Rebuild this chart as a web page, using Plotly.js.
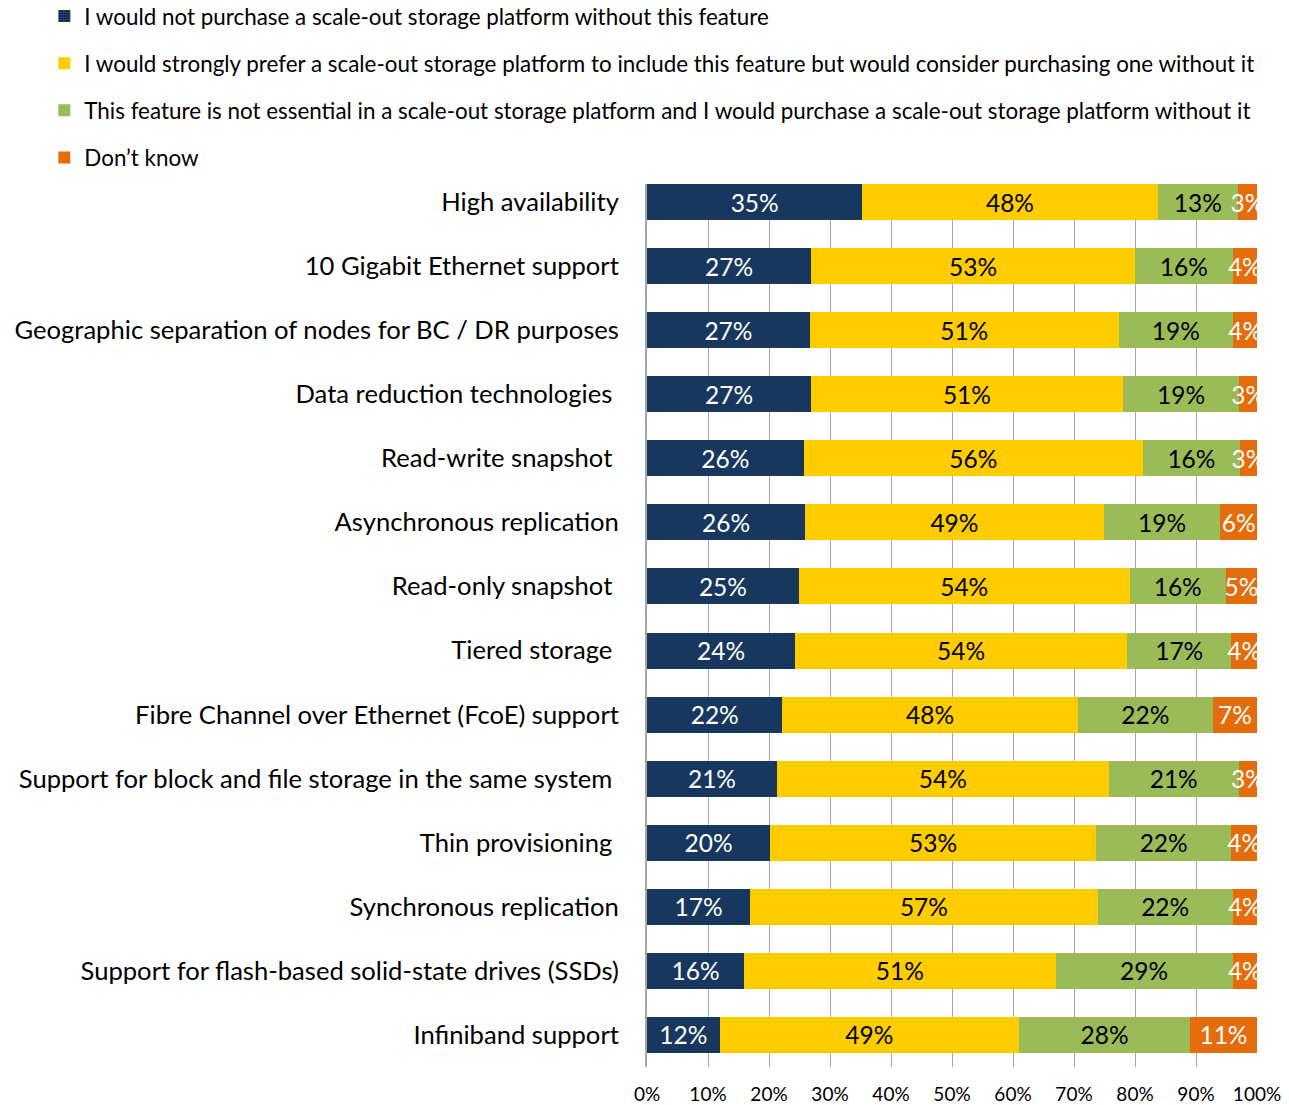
<!DOCTYPE html>
<html>
<head>
<meta charset="utf-8">
<script src="https://cdn.plot.ly/plotly-3.0.1.min.js"></script>
<style>html,body{margin:0;padding:0;background:#fff;}#chart{width:1289px;height:1105px;}</style>
</head>
<body>
<div id="chart"></div>
<script>
const categories = [
  "High availability",
  "10 Gigabit Ethernet support",
  "Geographic separation of nodes for BC / DR purposes",
  "Data reduction technologies\u00a0",
  "Read-write snapshot\u00a0",
  "Asynchronous replication",
  "Read-only snapshot\u00a0",
  "Tiered storage\u00a0",
  "Fibre Channel over Ethernet (FcoE) support",
  "Support for block and file storage in the same system\u00a0",
  "Thin provisioning\u00a0",
  "Synchronous replication",
  "Support for flash-based solid-state drives (SSDs)",
  "Infiniband support"
];
const seriesNames = [
  "I would not purchase a scale-out storage platform without this feature",
  "I would strongly prefer a scale-out storage platform to include this feature but would consider purchasing one without it",
  "This feature is not essential in a scale-out storage platform and I would purchase a scale-out storage platform without it",
  "Don\u2019t know"
];
const wouldNot   = [35.3, 26.9, 26.7, 26.9, 25.7, 25.9, 24.9, 24.3, 22.2, 21.3, 20.2, 16.9, 15.9, 11.9];
const prefer     = [48.4, 53.1, 50.6, 51.1, 55.6, 49.0, 54.2, 54.4, 48.4, 54.4, 53.4, 57.0, 51.1, 49.1];
const notEssent  = [13.2, 16.0, 18.8, 19.1, 15.9, 19.1, 15.8, 17.1, 22.2, 21.3, 22.2, 22.1, 29.0, 28.0];
const dontKnow   = [3.1, 4.0, 3.9, 2.9, 2.8, 6.0, 5.1, 4.2, 7.2, 3.0, 4.2, 4.0, 4.0, 11.0];
const xTickVals  = [0, 10, 20, 30, 40, 50, 60, 70, 80, 90, 100];

const FONT = "Lato, 'Open Sans', sans-serif";
const colors = ["#17375E", "#FFCC00", "#9BBB59", "#E46C0A"];
const textColors = ["#FFFFFF", "#000000", "#000000", "#FFFFFF"];
const values = [wouldNot, prefer, notEssent, dontKnow];

const traces = values.map((v, i) => ({
  type: "bar",
  orientation: "h",
  name: seriesNames[i],
  legendgroup: "g" + i,
  x: v,
  y: categories,
  marker: {color: colors[i], line: {width: 0}},
  texttemplate: "%{x:.0f}%",
  textposition: "inside",
  insidetextanchor: "middle",
  textangle: 0,
  insidetextfont: {family: FONT, size: 24.5, color: textColors[i]},
  hoverinfo: "skip",
  cliponaxis: true
}));

const layout = {
  width: 1289,
  height: 1105,
  margin: {l: 647, r: 32, t: 184, b: 38, pad: 0, autoexpand: false},
  paper_bgcolor: "#ffffff",
  plot_bgcolor: "#ffffff",
  barmode: "stack",
  bargap: 0.438,
  font: {family: FONT, color: "#000000"},
  uniformtext: {mode: "show", minsize: 24.5},
  showlegend: true,
  legend: {
    orientation: "v",
    xref: "paper", yref: "paper",
    x: -0.988, y: 1.2140, xanchor: "left", yanchor: "top",
    traceorder: "grouped",
    tracegroupgap: 15,
    font: {family: FONT, size: 22.4, color: "#000000"},
    bgcolor: "rgba(0,0,0,0)",
    borderwidth: 0
  },
  xaxis: {
    range: [0, 100],
    tickvals: xTickVals,
    ticktext: xTickVals.map(v => v + "%"),
    showgrid: true,
    gridcolor: "#A6A6A6",
    gridwidth: 1,
    zeroline: false,
    showline: false,
    ticks: "",
    ticklabelstandoff: 14,
    tickfont: {family: FONT, size: 19, color: "#000000"},
    automargin: false,
    fixedrange: true
  },
  yaxis: {
    type: "category",
    range: [13.5, -0.281],
    showgrid: false,
    zeroline: false,
    showline: true,
    linecolor: "#A6A6A6",
    linewidth: 2,
    ticks: "",
    ticklabelstandoff: 21,
    tickfont: {family: FONT, size: 25.6, color: "#000000"},
    automargin: false,
    fixedrange: true
  }
};

Plotly.newPlot("chart", traces, layout, {displayModeBar: false, staticPlot: true});
</script>
</body>
</html>
